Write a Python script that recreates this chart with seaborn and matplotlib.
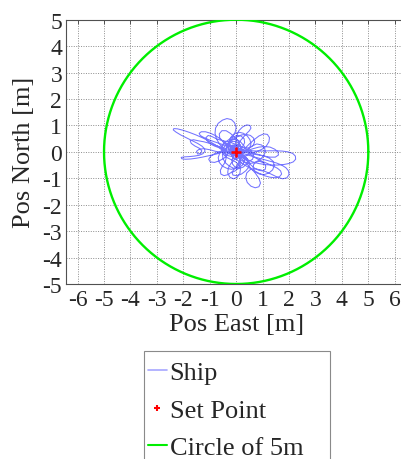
import numpy as np
import matplotlib
matplotlib.use("Agg")
import matplotlib.pyplot as plt
from matplotlib.lines import Line2D
from matplotlib.patches import Rectangle
import seaborn as sns

# Ship track (east / north position in metres), stored leg by leg
east_a = [0.00, 0.12, 0.25, 0.32, 0.30, 0.18, 0.02, -0.12, -0.22, -0.25, -0.18, -0.05, 0.10, 0.22, 0.35, 0.50, 0.62, 0.66, 0.58, 0.42, 0.25, 0.10]
north_a = [0.00, 0.08, 0.20, 0.35, 0.50, 0.60, 0.62, 0.55, 0.42, 0.25, 0.08, -0.05, -0.12, -0.20, -0.30, -0.35, -0.28, -0.12, 0.02, 0.08, 0.05, -0.05]

east_b = [-0.05, -0.25, -0.48, -0.72, -0.98, -1.25, -1.52, -1.78, -2.02, -2.22, -2.36, -2.38, -2.28, -2.10, -1.88, -1.66, -1.46, -1.30, -1.20, -1.18,
          -1.26, -1.40, -1.58, -1.78, -1.96, -2.08, -2.06, -1.92, -1.72, -1.50, -1.28, -1.05, -0.82, -0.60, -0.40]
north_b = [-0.10, -0.05, 0.08, 0.22, 0.38, 0.52, 0.64, 0.74, 0.82, 0.87, 0.88, 0.83, 0.75, 0.64, 0.53, 0.42, 0.32, 0.22, 0.12, 0.02,
           -0.07, -0.13, -0.16, -0.18, -0.19, -0.21, -0.26, -0.28, -0.27, -0.24, -0.20, -0.15, -0.10, -0.04, 0.02]

east_c = [-0.48, -0.62, -0.74, -0.80, -0.78, -0.68, -0.52, -0.35, -0.18, -0.06, 0.00, -0.04, -0.14, -0.28, -0.42, -0.52, -0.55, -0.48, -0.34, -0.18]
north_c = [0.12, 0.28, 0.48, 0.70, 0.90, 1.08, 1.20, 1.26, 1.22, 1.10, 0.92, 0.74, 0.58, 0.46, 0.36, 0.22, 0.06, -0.10, -0.22, -0.30]

east_d = [-0.02, 0.10, 0.16, 0.14, 0.04, -0.10, -0.24, -0.32, -0.30, -0.20, -0.06, 0.08, 0.20]
north_d = [-0.38, -0.50, -0.66, -0.82, -0.96, -1.02, -0.96, -0.80, -0.62, -0.44, -0.28, -0.12, 0.02]

east_e = [0.34, 0.50, 0.68, 0.86, 1.04, 1.18, 1.26, 1.24, 1.14, 0.98, 0.80, 0.62, 0.46, 0.32]
north_e = [0.14, 0.30, 0.46, 0.60, 0.68, 0.66, 0.54, 0.38, 0.22, 0.10, 0.02, -0.04, -0.10, -0.18]

east_f = [0.44, 0.62, 0.84, 1.08, 1.32, 1.56, 1.80, 2.00, 2.16, 2.25, 2.24, 2.14, 1.96, 1.74, 1.50, 1.26, 1.02, 0.80, 0.58, 0.38, 0.20]
north_f = [-0.30, -0.38, -0.44, -0.48, -0.50, -0.50, -0.48, -0.44, -0.38, -0.28, -0.16, -0.06, 0.00, 0.03, 0.04, 0.04, 0.03, 0.03, 0.04, 0.05, 0.04]

east_g = [0.10, 0.20, 0.36, 0.54, 0.72, 0.86, 0.92, 0.86, 0.72, 0.56, 0.42, 0.36, 0.40, 0.52, 0.70, 0.92, 1.14, 1.36, 1.56, 1.76,
          1.92, 2.00, 1.98, 1.88, 1.72, 1.52, 1.30, 1.08, 0.86, 0.64, 0.44, 0.26]
north_g = [-0.08, -0.24, -0.42, -0.60, -0.80, -1.00, -1.18, -1.32, -1.36, -1.30, -1.16, -0.98, -0.80, -0.68, -0.64, -0.68, -0.76, -0.86, -0.96, -1.02,
           -0.98, -0.86, -0.72, -0.60, -0.50, -0.42, -0.36, -0.30, -0.24, -0.18, -0.12, -0.06]

east_h = [0.08, -0.08, -0.24, -0.40, -0.52, -0.56, -0.48, -0.32, -0.14, 0.02, 0.14, 0.16, 0.08, -0.06, -0.22, -0.38, -0.54, -0.64, -0.62, -0.50,
          -0.34, -0.16, 0.02, 0.18, 0.30, 0.32, 0.24, 0.10, -0.04, -0.14, -0.16, -0.08, 0.06, 0.20, 0.30]
north_h = [0.04, 0.14, 0.26, 0.34, 0.28, 0.14, -0.02, -0.14, -0.18, -0.10, 0.04, 0.22, 0.40, 0.56, 0.70, 0.80, 0.80, 0.68, 0.52, 0.38,
           0.26, 0.16, 0.08, -0.04, -0.18, -0.34, -0.50, -0.60, -0.58, -0.46, -0.30, -0.14, -0.02, 0.04, 0.00]

east_i = [0.44, 0.60, 0.78, 0.96, 1.08, 1.10, 1.02, 0.86, 0.66, 0.46, 0.28, 0.14, 0.12, 0.24, 0.42, 0.62, 0.84, 1.06, 1.28, 1.48,
          1.60, 1.58, 1.46, 1.28, 1.08, 0.86, 0.64, 0.44, 0.26]
north_i = [0.10, 0.22, 0.30, 0.26, 0.14, -0.02, -0.18, -0.32, -0.42, -0.44, -0.38, -0.26, -0.12, -0.02, 0.02, -0.04, -0.10, -0.16, -0.20, -0.20,
           -0.12, 0.00, 0.10, 0.18, 0.20, 0.18, 0.12, 0.06, 0.00]

east_j = [0.08, -0.12, -0.34, -0.58, -0.82, -1.04, -1.22, -1.36, -1.40, -1.32, -1.16, -0.96, -0.76, -0.58, -0.44, -0.32, -0.26, -0.32, -0.46, -0.64,
          -0.82, -0.98, -1.04, -0.96, -0.80, -0.60, -0.40, -0.22, -0.06]
north_j = [0.06, 0.14, 0.22, 0.30, 0.38, 0.46, 0.54, 0.62, 0.70, 0.76, 0.76, 0.70, 0.60, 0.48, 0.36, 0.22, 0.06, -0.10, -0.24, -0.34,
           -0.40, -0.38, -0.28, -0.16, -0.06, 0.00, 0.04, 0.02, -0.04]

east_k = [0.06, 0.16, 0.18, 0.10, -0.04, -0.16, -0.12, 0.02, 0.20, 0.36, 0.48, 0.50, 0.40, 0.24, 0.10, 0.04, 0.06, 0.14, 0.26, 0.38,
          0.50, 0.56, 0.52, 0.40, 0.24, 0.10, 0.02, -0.02, 0.00]
north_k = [-0.14, -0.28, -0.44, -0.60, -0.72, -0.78, -0.88, -0.90, -0.84, -0.72, -0.58, -0.42, -0.26, -0.12, 0.00, 0.12, 0.26, 0.40, 0.54, 0.68,
           0.80, 0.90, 1.00, 1.02, 0.94, 0.80, 0.60, 0.38, 0.16]

east_l = [0.00, -0.10, -0.22, -0.32, -0.38, -0.36, -0.26, -0.12, 0.02, 0.14, 0.22, 0.24, 0.18, 0.06, -0.06, -0.14, -0.16, -0.10, 0.00]
north_l = [0.00, -0.08, -0.10, -0.04, 0.08, 0.22, 0.34, 0.40, 0.38, 0.28, 0.14, -0.02, -0.16, -0.26, -0.28, -0.20, -0.06, 0.04, 0.00]

east_m = [0.00, 0.18, 0.34, 0.44, 0.40, 0.26, 0.08, -0.10, -0.26, -0.40, -0.50, -0.52, -0.44, -0.30, -0.12, 0.04, 0.20, 0.36, 0.52, 0.64,
          0.70, 0.66, 0.54, 0.38, 0.20, 0.02, -0.16, -0.34, -0.50, -0.62]
north_m = [0.00, -0.06, -0.16, -0.30, -0.46, -0.58, -0.64, -0.62, -0.54, -0.42, -0.26, -0.08, 0.08, 0.20, 0.26, 0.24, 0.18, 0.14, 0.16, 0.24,
           0.38, 0.52, 0.62, 0.66, 0.64, 0.56, 0.44, 0.30, 0.14, -0.04]

east_n = [-0.68, -0.64, -0.52, -0.36, -0.18, -0.02, 0.10, 0.16, 0.12, 0.00, -0.14, -0.24, -0.26, -0.18, -0.04, 0.12, 0.28, 0.42, 0.52, 0.56,
          0.50, 0.36, 0.18, 0.00, -0.16, -0.28, -0.32, -0.26, -0.12, 0.04]
north_n = [-0.22, -0.40, -0.54, -0.62, -0.66, -0.62, -0.50, -0.34, -0.16, 0.00, 0.12, 0.26, 0.42, 0.58, 0.70, 0.74, 0.70, 0.60, 0.46, 0.30,
           0.14, 0.02, -0.06, -0.08, -0.02, 0.10, 0.26, 0.40, 0.48, 0.46]

east_o = [0.18, 0.30, 0.40, 0.52, 0.68, 0.86, 1.04, 1.22, 1.40, 1.56, 1.68, 1.72, 1.64, 1.48, 1.28, 1.06, 0.84, 0.62, 0.42, 0.24,
          0.08, -0.06, -0.18, -0.26, -0.22, -0.10, 0.06]
north_o = [0.36, 0.22, 0.06, -0.08, -0.20, -0.30, -0.38, -0.46, -0.54, -0.62, -0.72, -0.84, -0.94, -0.98, -0.96, -0.90, -0.80, -0.68, -0.56, -0.44,
           -0.34, -0.24, -0.12, 0.02, 0.16, 0.24, 0.22]

east_p = [-0.06, -0.22, -0.40, -0.58, -0.76, -0.92, -1.06, -1.14, -1.10, -0.98, -0.82, -0.66, -0.52, -0.42, -0.38, -0.42, -0.52, -0.60, -0.58, -0.46,
          -0.30, -0.14, 0.00, 0.12, 0.20]
north_p = [0.30, 0.36, 0.40, 0.44, 0.50, 0.58, 0.62, 0.54, 0.42, 0.30, 0.22, 0.16, 0.06, -0.08, -0.24, -0.40, -0.54, -0.70, -0.84, -0.90,
           -0.86, -0.74, -0.56, -0.36, -0.16]

east_q = [0.22, 0.16, 0.04, -0.08, -0.14, -0.10, 0.00, 0.10, 0.14, 0.08, -0.04, -0.12, -0.10, 0.00, 0.10, 0.16, 0.12, 0.02, -0.06, -0.04,
          0.04, 0.10, 0.06, 0.00]
north_q = [0.04, 0.20, 0.28, 0.22, 0.08, -0.06, -0.14, -0.08, 0.06, 0.18, 0.20, 0.08, -0.08, -0.20, -0.18, -0.06, 0.10, 0.16, 0.06, -0.06,
           -0.10, -0.02, 0.06, 0.00]

east_r = [0.14, 0.30, 0.44, 0.56, 0.70, 0.86, 1.00, 1.10, 1.12, 1.04, 0.90, 0.76, 0.66, 0.64, 0.72, 0.88, 1.06, 1.24, 1.38, 1.44,
          1.40, 1.26, 1.06, 0.84, 0.62, 0.42, 0.24, 0.10]
north_r = [-0.10, -0.22, -0.36, -0.50, -0.62, -0.70, -0.72, -0.66, -0.54, -0.42, -0.36, -0.38, -0.48, -0.62, -0.76, -0.84, -0.86, -0.80, -0.68, -0.52,
           -0.36, -0.24, -0.16, -0.12, -0.08, -0.04, 0.00, 0.02]

east_s = [-0.10, -0.30, -0.52, -0.76, -1.00, -1.22, -1.44, -1.62, -1.74, -1.70, -1.56, -1.40, -1.30, -1.34, -1.46, -1.50, -1.40, -1.22, -1.00, -0.78,
          -0.56, -0.34, -0.14, 0.00]
north_s = [0.04, 0.10, 0.16, 0.24, 0.32, 0.38, 0.42, 0.46, 0.42, 0.32, 0.22, 0.14, 0.04, -0.06, -0.08, 0.02, 0.10, 0.12, 0.08, 0.02,
           -0.02, -0.04, -0.02, 0.00]

ship_east = (east_a + east_b + east_c + east_d + east_e + east_f + east_g + east_h + east_i
             + east_j + east_k + east_l + east_m + east_n + east_o + east_p + east_q + east_r + east_s)
ship_north = (north_a + north_b + north_c + north_d + north_e + north_f + north_g + north_h + north_i
              + north_j + north_k + north_l + north_m + north_n + north_o + north_p + north_q + north_r + north_s)

set_point_east = [0.0]
set_point_north = [0.0]
circle_radius = 5.0

x_ticks = list(range(-6, 7))
y_ticks = list(range(-5, 6))
series_labels = ["Ship", "Set Point", "Circle of 5m"]

sns.set_style("white")
plt.rcParams["font.family"] = ["Liberation Serif", "DejaVu Serif"]
plt.rcParams["axes.unicode_minus"] = False

W, H = 402, 460
fig = plt.figure(figsize=(W / 100, H / 100), dpi=100)

# axes laid out in pixels so one metre has the same length on both axes
unit = 26.43
xlim = (-6.45, 6.45)
ylim = (-5.0, 5.0)
left_px, top_px = 65.7, 20.7
ax_w = (xlim[1] - xlim[0]) * unit
ax_h = (ylim[1] - ylim[0]) * unit
ax = fig.add_axes([left_px / W, 1 - (top_px + ax_h) / H, ax_w / W, ax_h / H])

theta = np.linspace(0, 2 * np.pi, 721)
circle_east = circle_radius * np.cos(theta)
circle_north = circle_radius * np.sin(theta)

ship_color = "#0000ff"
sns.lineplot(x=ship_east, y=ship_north, sort=False, estimator=None, ax=ax,
             color=ship_color, lw=0.75, alpha=0.55, zorder=3)
sns.lineplot(x=circle_east, y=circle_north, sort=False, estimator=None, ax=ax,
             color="#00ee00", lw=1.7, zorder=3)
ax.plot(set_point_east, set_point_north, ls="none", marker="+", ms=7,
        mew=1.8, color="red", zorder=4)

ax.set_xlim(*xlim)
ax.set_ylim(*ylim)
ax.set_xticks(x_ticks)
ax.set_yticks(y_ticks)
tick_font = ["Liberation Serif", "DejaVu Serif"]
ax.set_xticklabels([str(t) for t in x_ticks], fontfamily=tick_font)
ax.set_yticklabels([str(t) for t in y_ticks], fontfamily=tick_font)

ax.grid(True, ls=(0, (1, 1.5)), color="#8c8c8c", lw=0.7)
ax.set_axisbelow(True)
for sp in ax.spines.values():
    sp.set_color("#505050")
    sp.set_linewidth(0.8)
ax.tick_params(direction="in", length=3, width=0.7, color="#505050",
               labelsize=17, top=True, right=True)
ax.tick_params(axis="x", pad=3.5)
ax.tick_params(axis="y", pad=2.5)

ax.set_xlabel("Pos East [m]", fontsize=19, labelpad=2)
ax.set_ylabel("Pos North [m]", fontsize=19, labelpad=5.5)

if ax.get_legend() is not None:
    ax.get_legend().remove()

# legend frame, running past the bottom edge of the figure
frame = Rectangle((144 / W, 1 - 480 / H), 186 / W, 128 / H, transform=fig.transFigure,
                  fill=True, facecolor="white", edgecolor="#8a8a8a", lw=0.8, zorder=5)
fig.add_artist(frame)

handles = [
    Line2D([], [], color=ship_color, lw=1.2, alpha=0.35),
    Line2D([], [], ls="none", marker="+", ms=5, mew=1.5, color="red"),
    Line2D([], [], color="#00ee00", lw=1.5),
]
leg = fig.legend(handles, series_labels, loc="upper left",
                 bbox_to_anchor=(148 / W, 1 - 362 / H),
                 borderaxespad=0, borderpad=0, fontsize=19, handlelength=0.72,
                 handletextpad=0.1, labelspacing=0.53, frameon=False)
leg.set_zorder(6)

fig.savefig("out.png", dpi=100)
